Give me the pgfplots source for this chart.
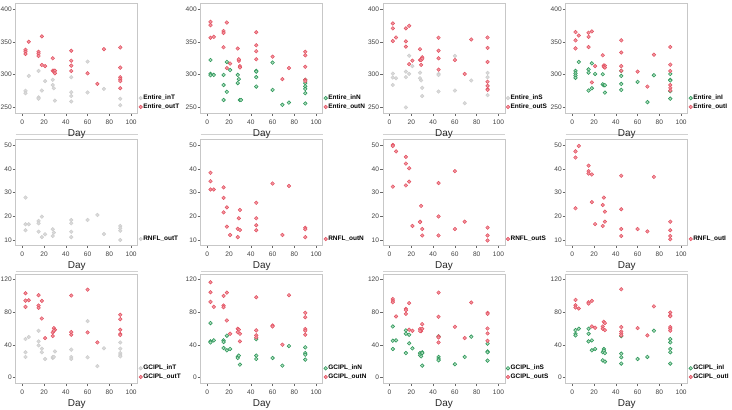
\documentclass[border=0pt]{standalone}
\usepackage{fontspec}
\setmainfont{Liberation Sans}
\usepackage{pgfplots}
\pgfplotsset{compat=1.18}

\definecolor{redE}{RGB}{226,80,96}
\definecolor{redF}{RGB}{242,150,160}
\definecolor{grnE}{RGB}{48,152,92}
\definecolor{grnF}{RGB}{175,222,190}
\definecolor{gryE}{RGB}{205,205,205}
\definecolor{gryF}{RGB}{218,218,218}

\pgfplotsset{
  panel/.style={
    scale only axis, width=122bp, anchor=south west,
    xmin=-6, xmax=106, xtick={0,20,...,100},
    tick align=outside, xtick pos=bottom, ytick pos=left,
    major tick length=3bp,
    axis line style={black!22, line width=0.9pt},
    major tick style={black!60, line width=0.5pt},
    tick label style={font=\fontsize{6.6}{7.5}\selectfont, text=black!75},
    yticklabel style={inner xsep=0.8bp},
    /pgf/number format/assume math mode=true,
    xlabel={Day}, xlabel style={font=\fontsize{10}{11}\selectfont, text=black!85, yshift=1bp},
    legend style={at={(1,0)}, anchor=south west, xshift=1bp, yshift=2bp,
      draw=none, fill=none, font=\bfseries\fontsize{6.5}{7.5}\selectfont,
      row sep=1bp, inner sep=0pt, nodes={inner sep=0.8pt}},
    legend cell align=left,
  },
  r1/.style={height=110bp, ymin=241, ymax=410, ytick={250,300,350,400}},
  r2/.style={height=106bp, ymin=8, ymax=52.5, ytick={10,20,...,50}},
  r3/.style={height=109bp, ymin=-6.5, ymax=126.5, ytick={0,40,80,120}},
  pr/.style={only marks, mark=*, mark size=1.8bp, draw=redE, fill=redF, line width=0.5pt,
    legend image code/.code={\draw[##1] plot coordinates {(0.08cm,0cm)};}},
  pg/.style={only marks, mark=*, mark size=1.8bp, draw=grnE, fill=grnF, line width=0.6pt,
    legend image code/.code={\draw[##1] plot coordinates {(0.08cm,0cm)};}},
  pk/.style={only marks, mark=*, mark size=1.8bp, draw=gryE, fill=gryF, line width=0.5pt,
    legend image code/.code={\draw[##1] plot coordinates {(0.08cm,0cm)};}},
}

\begin{document}
\begin{tikzpicture}
\useasboundingbox (0,0) rectangle (732bp,410bp);

% faint frame lines under rows 1 and 2
\foreach \xx in {15.7,200.7,383,565.7}{
  \draw[black!18, line width=1pt] (\xx bp,275bp) -- ++(122bp,0);
  \draw[black!18, line width=1pt] (\xx bp,138.3bp) -- ++(122bp,0);
}

% ---------- row 1: Entire ----------
\begin{axis}[panel, r1, at={(15.7bp,297bp)}]
\addplot[pk] coordinates {(3,275)(3,271.4)(6,298)(15,305.6)(15,265)(15,263)(18,275.5)(21,290)(28,292)(28,284)(29,279)(30,260)(45,296)(45,273)(45,267)(45,258.7)(60,320)(60,272.5)(75,278)(90,263)(90,253)};
\addlegendentry{Entire\_inT}
\addplot[pr] coordinates {(3,338)(3,335)(3,331.6)(6,350.5)(15,335)(15,332)(15,328.6)(18,358.7)(18,314.8)(21,313)(28,325)(28,306)(29,306)(30,306)(30,302)(45,336.7)(45,321.4)(45,313.8)(45,305.6)(60,302)(69,285.7)(75,339)(90,341.8)(90,310.7)(90,296)(90,293)(90,290)(90,279)};
\addlegendentry{Entire\_outT}
\end{axis}

\begin{axis}[panel, r1, at={(200.7bp,297bp)}]
\addplot[pg] coordinates {(3,322.4)(3,301)(3,299)(6,299.5)(15,299.5)(15,284)(15,261)(18,319.4)(18,273.5)(21,307)(28,299.5)(29,293)(28,287)(30,261)(31,261)(45,305.6)(45,304.6)(45,296)(45,281.6)(60,318.4)(60,276.5)(69,253.6)(75,257)(90,292)(90,287)(90,282)(90,278)(90,271.4)(90,255.6)};
\addlegendentry{Entire\_inN}
\addplot[pr] coordinates {(3,381)(3,376)(3,356.6)(6,358)(15,367)(15,364)(15,342)(18,380)(18,310)(21,317)(28,340)(29,321)(29,323.5)(30,313)(30,311)(45,365)(45,345)(45,336)(45,323.5)(60,327.5)(69,293)(75,310)(90,335)(90,329.6)(90,312)(90,292)(90,290)};
\addlegendentry{Entire\_outN}
\end{axis}

\begin{axis}[panel, r1, at={(383bp,297bp)}]
\addplot[pk] coordinates {(3,301.5)(3,295.5)(3,284)(6,294.4)(15,304.6)(15,296)(15,249.5)(18,329)(18,301)(21,313)(28,303)(28,294.4)(29,291)(30,279.6)(30,267)(45,301)(45,299.5)(45,274)(60,328.6)(60,275.5)(69,256)(75,291)(90,302.6)(90,296)(90,282.6)(90,268.4)};
\addlegendentry{Entire\_inS}
\addplot[pr] coordinates {(3,378.6)(3,371)(3,351.5)(6,357)(15,371)(15,351)(15,343)(18,375)(18,316)(21,321.4)(28,339)(28,322.4)(29,322.4)(30,326.5)(30,324.5)(29,315)(45,356.6)(45,336.7)(45,325)(45,307.6)(60,322.4)(69,301)(75,354)(90,357)(90,341)(90,319.4)(90,289)(90,282.6)(90,277.6)(90,276.5)};
\addlegendentry{Entire\_outS}
\end{axis}

\begin{axis}[panel, r1, at={(565.7bp,297bp)}]
\addplot[pg] coordinates {(3,305.6)(3,302)(3,298.5)(3,295)(6,319.4)(15,308)(15,303)(15,275.5)(18,317.3)(18,279)(21,301)(28,300.5)(28,285)(29,283.7)(30,283.7)(30,272.4)(45,305.6)(45,298)(45,285.7)(45,276.5)(60,288.8)(69,257.7)(75,299)(90,301)(90,291.8)(90,291)(90,274.5)(90,263)};
\addlegendentry{Entire\_inI}
\addplot[pr] coordinates {(3,365.3)(3,352.6)(3,340.3)(6,360)(15,364.3)(15,358)(15,342.3)(18,366.3)(18,288)(21,313)(28,329.6)(29,314)(30,313.8)(29,312)(30,310.7)(45,352.6)(45,334)(45,313)(45,306)(60,304.6)(69,281.6)(75,330.6)(90,342.3)(90,315.3)(90,305.6)(90,284)(90,279.6)(90,275.5)};
\addlegendentry{Entire\_outI}
\end{axis}

% ---------- row 2: RNFL ----------
\begin{axis}[panel, r2, at={(15.7bp,165bp)}]
\addplot[pk] coordinates {(3,27.9)(3,16.7)(3,14.2)(6,16.7)(15,18.1)(15,17.1)(15,13.6)(18,19.9)(18,11.3)(21,12.5)(28,14.6)(29,13.2)(28,11.8)(45,18.5)(45,17.1)(45,13.6)(45,11.3)(60,18.5)(69,20.6)(75,12.6)(90,16)(90,15)(90,14)(90,10.1)};
\addlegendentry{RNFL\_outT}
\end{axis}

\begin{axis}[panel, r2, at={(200.7bp,165bp)}]
\addplot[pr] coordinates {(3,38.3)(3,34.8)(3,31.3)(6,31.3)(15,32.2)(15,27.8)(15,21.7)(18,23.8)(18,15.7)(21,12.2)(28,14.8)(29,19.2)(30,14.3)(30,22.7)(28,11.3)(45,25.7)(45,19.2)(45,16.3)(45,14.2)(60,33.8)(69,12.2)(75,32.8)(90,15.2)(90,14.6)(90,11.3)};
\addlegendentry{RNFL\_outN}
\end{axis}

\begin{axis}[panel, r2, at={(383bp,165bp)}]
\addplot[pr] coordinates {(3,50)(3,49.6)(3,32.5)(6,47.3)(15,45)(15,42.2)(15,33)(18,40.2)(18,34.6)(21,16)(28,17.8)(28,17.6)(29,24.4)(30,14.7)(30,12)(45,34)(45,20)(45,12)(60,39)(60,14.7)(69,17.8)(90,15.3)(90,12)(90,9.9)};
\addlegendentry{RNFL\_outS}
\end{axis}

\begin{axis}[panel, r2, at={(565.7bp,165bp)}]
\addplot[pr] coordinates {(3,47.3)(3,44.7)(3,23.4)(6,49.6)(15,41.3)(15,39)(15,38)(18,37.6)(18,26)(21,16.8)(28,24.8)(28,16)(29,27.9)(30,22)(30,17.8)(45,37.1)(45,23)(45,14.7)(45,11.8)(60,14.7)(69,13.7)(75,36.6)(90,17.8)(90,14.2)(90,11.8)(90,10.4)};
\addlegendentry{RNFL\_outI}
\end{axis}

% ---------- row 3: GCIPL ----------
\begin{axis}[panel, r3, at={(15.7bp,27bp)}]
\addplot[pk] coordinates {(3,47.1)(3,31)(3,25.3)(6,49.6)(15,57.2)(15,44.3)(15,39.4)(18,35.4)(18,31)(21,22.8)(28,24)(28,25.3)(29,25.3)(30,32)(45,34.2)(45,25.3)(45,22.8)(60,69)(60,24.9)(69,14)(75,35.8)(90,43)(90,35.4)(90,30)(90,27.7)(90,26)};
\addlegendentry{GCIPL\_inT}
\addplot[pr] coordinates {(3,103)(3,94)(3,86.4)(6,94.5)(15,100.6)(15,88)(15,85.2)(18,93.7)(18,72.2)(21,48.3)(28,50.8)(28,55.2)(29,60.5)(30,58.5)(29,57.3)(45,100.2)(45,55.6)(45,52.4)(60,107.4)(60,55.2)(69,43)(90,76.7)(90,71.4)(90,58.5)(90,53.2)(90,52)};
\addlegendentry{GCIPL\_outT}
\end{axis}

\begin{axis}[panel, r3, at={(200.7bp,27bp)}]
\addplot[pg] coordinates {(3,66.6)(3,44.3)(3,43)(6,45.5)(15,45.5)(15,43.5)(15,36.2)(18,51.2)(18,33.4)(21,35)(28,25.3)(28,24)(29,26.9)(30,16)(45,47)(45,26.9)(45,22.8)(60,24)(69,14.7)(75,38.6)(90,37)(90,30)(90,28)(90,22)};
\addlegendentry{GCIPL\_inN}
\addplot[pr] coordinates {(3,116.4)(3,104.2)(3,92.5)(6,86.4)(15,99.8)(15,88)(15,86)(18,103.8)(18,69.8)(21,53.6)(28,59.7)(29,58.5)(30,53.6)(30,44.3)(28,55.6)(45,98.1)(45,57.7)(45,51.6)(45,49.1)(60,63.7)(60,62.5)(69,40.2)(75,100.6)(90,79.1)(90,73.8)(90,59.3)(90,57.3)(90,52.4)};
\addlegendentry{GCIPL\_outN}
\end{axis}

\begin{axis}[panel, r3, at={(383bp,27bp)}]
\addplot[pg] coordinates {(3,62.5)(3,45.1)(3,35)(6,45.5)(15,57.7)(15,53.6)(15,30)(18,52.4)(18,41.9)(21,35.8)(28,30)(28,27.3)(29,26)(30,31)(30,30)(30,14.7)(45,50.4)(45,25.3)(45,22.8)(45,21.2)(60,16.4)(69,25.3)(75,50)(90,41.5)(90,32)(90,31)(90,20.8)};
\addlegendentry{GCIPL\_inS}
\addplot[pr] coordinates {(3,96)(3,93.7)(3,92)(6,74.7)(15,84)(15,82.3)(15,77.9)(18,90.9)(18,58.5)(21,57.2)(28,59.3)(29,56.8)(28,56.8)(30,65.3)(30,59.7)(45,103.8)(45,74.3)(45,50.4)(45,49.1)(45,43)(60,62.1)(69,48.3)(75,91.7)(90,79.1)(90,77.9)(90,60)(90,54)(90,45)};
\addlegendentry{GCIPL\_outS}
\end{axis}

\begin{axis}[panel, r3, at={(565.7bp,27bp)}]
\addplot[pg] coordinates {(3,58)(3,53.6)(3,51.6)(6,59.7)(15,59.7)(15,53.6)(15,44.3)(18,45.5)(18,33.4)(21,35)(28,31)(28,21.2)(29,35)(29,33)(30,30)(30,19.6)(45,50.8)(45,29.3)(45,24.9)(45,17.2)(60,22.8)(69,25.3)(75,57.3)(90,47.1)(90,43.1)(90,35)(90,31)(90,17.2)};
\addlegendentry{GCIPL\_inI}
\addplot[pr] coordinates {(3,94.9)(3,88.4)(3,85.6)(6,84.4)(15,92)(15,90.4)(18,93.7)(18,62.5)(21,60.9)(28,62.5)(28,59.7)(29,68.2)(30,66.6)(30,58)(45,107.8)(45,61.7)(45,56.4)(45,54)(45,51.6)(60,60.5)(69,51.6)(75,87)(90,79.5)(90,75.9)(90,75)(90,61.7)(90,59.7)(90,57.3)};
\addlegendentry{GCIPL\_outI}
\end{axis}
\end{tikzpicture}
\end{document}
